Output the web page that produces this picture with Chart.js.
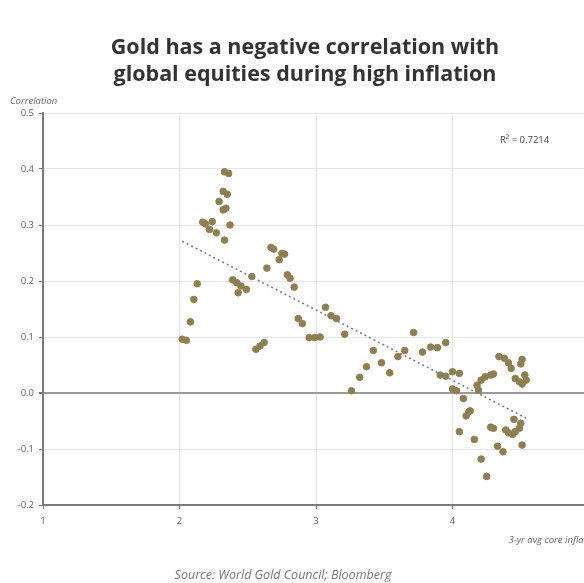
<!DOCTYPE html>
<html>
<head>
<meta charset="utf-8">
<script src="https://cdn.jsdelivr.net/npm/chart.js@4.4.1/dist/chart.umd.min.js"></script>
<style>
  html, body { margin: 0; padding: 0; background: #fff; overflow: hidden; }
  #wrap { width: 610px; height: 583px; }
</style>
</head>
<body>
<div id="wrap"><canvas id="goldChart" width="610" height="583"></canvas></div>
<script>
// 3-yr avg core inflation (x) vs gold/equities correlation (y)
const inflation = [
  2.02, 2.05, 2.08, 2.105, 2.13, 2.17, 2.19, 2.22, 2.24, 2.27,
  2.29, 2.32, 2.33, 2.35, 2.36, 2.32, 2.34, 2.37, 2.33, 2.39,
  2.42, 2.45, 2.49, 2.43, 2.53, 2.56, 2.59, 2.62, 2.64, 2.67,
  2.69, 2.73, 2.75, 2.77, 2.79, 2.81, 2.84, 2.87, 2.90, 2.95,
  2.99, 3.03, 3.07, 3.11, 3.15, 3.21, 3.26, 3.32, 3.37, 3.42,
  3.48, 3.54, 3.60, 3.65, 3.715, 3.78, 3.84, 3.89, 3.95, 3.91,
  3.95, 4.00, 4.05, 4.00, 4.03, 4.08, 4.10, 4.12, 4.13, 4.05,
  4.16, 4.21, 4.25, 4.18, 4.19, 4.21, 4.24, 4.28, 4.30, 4.34,
  4.38, 4.41, 4.43, 4.51, 4.50, 4.46, 4.49, 4.51, 4.54, 4.53,
  4.28, 4.30, 4.39, 4.41, 4.44, 4.46, 4.49, 4.50, 4.45, 4.51,
  4.33, 4.37
];
const correlation = [
  0.096, 0.094, 0.127, 0.167, 0.195, 0.305, 0.302, 0.292, 0.306, 0.286,
  0.342, 0.360, 0.395, 0.355, 0.392, 0.327, 0.330, 0.300, 0.273, 0.202,
  0.197, 0.191, 0.185, 0.179, 0.208, 0.078, 0.084, 0.090, 0.223, 0.260,
  0.257, 0.238, 0.249, 0.248, 0.211, 0.205, 0.189, 0.133, 0.124, 0.099,
  0.099, 0.100, 0.153, 0.138, 0.133, 0.105, 0.004, 0.028, 0.047, 0.076,
  0.054, 0.036, 0.065, 0.076, 0.108, 0.073, 0.082, 0.081, 0.090, 0.032,
  0.030, 0.038, 0.035, 0.007, 0.004, -0.010, -0.041, -0.033, -0.032, -0.069,
  -0.083, -0.118, -0.149, 0.014, 0.005, 0.023, 0.029, 0.032, 0.034, 0.065,
  0.062, 0.054, 0.044, 0.060, 0.052, 0.026, 0.020, 0.016, 0.023, 0.032,
  -0.061, -0.063, -0.066, -0.071, -0.074, -0.069, -0.063, -0.054, -0.047, -0.093,
  -0.095, -0.105
];

// dotted linear trend, end points
const trendX = [2.02, 4.54];
const trendY = [0.271, -0.045];
const rSquared = '0.7214';

const xTicks = [1, 2, 3, 4, 5];
const yTicks = [-0.2, -0.1, 0.0, 0.1, 0.2, 0.3, 0.4, 0.5];

const FONT = '"Open Sans", "Noto Sans", sans-serif';

const points = inflation.map((x, i) => ({ x: x, y: correlation[i] }));
const trend = trendX.map((x, i) => ({ x: x, y: trendY[i] }));

// titles, axis captions, R² and source
const textPlugin = {
  id: 'texts',
  afterDraw(chart) {
    const c = chart.ctx;
    c.save();
    c.fillStyle = '#333';
    c.font = 'bold 21.5px ' + FONT;
    c.textAlign = 'center';
    c.textBaseline = 'middle';
    c.fillText('Gold has a negative correlation with', 305, 48);
    c.fillText('global equities during high inflation', 305, 75);

    c.fillStyle = '#666';
    c.font = 'italic 9.5px ' + FONT;
    c.textAlign = 'left';
    c.fillText('Correlation', 10, 101);
    c.textAlign = 'right';
    c.fillText('3-yr avg core inflation', 600, 540);

    c.fillStyle = '#444';
    c.font = '9.5px ' + FONT;
    c.textAlign = 'left';
    c.fillText('R\u00B2 = ' + rSquared, 500, 140);

    c.fillStyle = '#777';
    c.font = 'italic 12.5px ' + FONT;
    c.textAlign = 'center';
    c.fillText('Source: World Gold Council; Bloomberg', 283, 575);
    c.restore();
  }
};

new Chart(document.getElementById('goldChart'), {
  type: 'scatter',
  data: {
    datasets: [
      {
        label: 'Correlation',
        data: points,
        backgroundColor: '#8e7f52',
        borderColor: '#8e7f52',
        pointRadius: 3.3,
        pointHoverRadius: 3.3,
        order: 2
      },
      {
        type: 'line',
        label: 'Trend',
        data: trend,
        borderColor: '#7a7a7a',
        borderWidth: 1.5,
        borderDash: [2, 3],
        pointRadius: 0,
        fill: false,
        order: 1
      }
    ]
  },
  options: {
    responsive: false,
    animation: false,
    layout: { padding: { left: 0, top: 113, right: 21, bottom: 0 } },
    plugins: {
      legend: { display: false },
      tooltip: { enabled: false }
    },
    scales: {
      x: {
        type: 'linear',
        min: 1,
        max: 5,
        afterBuildTicks: (s) => { s.ticks = xTicks.map(v => ({ value: v })); },
        afterFit: (s) => { s.height = 78; },
        ticks: {
          color: '#666',
          font: { family: FONT, size: 9.5 },
          padding: 7,
          maxRotation: 0,
          callback: (v) => String(v)
        },
        grid: {
          color: '#e6e6e6',
          lineWidth: 1,
          tickLength: 4,
          tickColor: '#777'
        },
        border: { color: '#7a7a7a', width: 2 }
      },
      y: {
        min: -0.2,
        max: 0.5,
        afterBuildTicks: (s) => { s.ticks = yTicks.map(v => ({ value: v })); },
        afterFit: (s) => { s.width = 43; },
        ticks: {
          color: '#666',
          font: { family: FONT, size: 9.5 },
          padding: 5,
          callback: (v) => Number(v).toFixed(1)
        },
        grid: {
          color: (ctx) => (ctx.tick && Math.abs(ctx.tick.value) < 1e-9 ? '#9a9a9a' : '#e6e6e6'),
          lineWidth: (ctx) => (ctx.tick && Math.abs(ctx.tick.value) < 1e-9 ? 2 : 1),
          tickLength: 4,
          tickColor: '#777'
        },
        border: { color: '#7a7a7a', width: 2 }
      }
    }
  },
  plugins: [textPlugin]
});
</script>
</body>
</html>
